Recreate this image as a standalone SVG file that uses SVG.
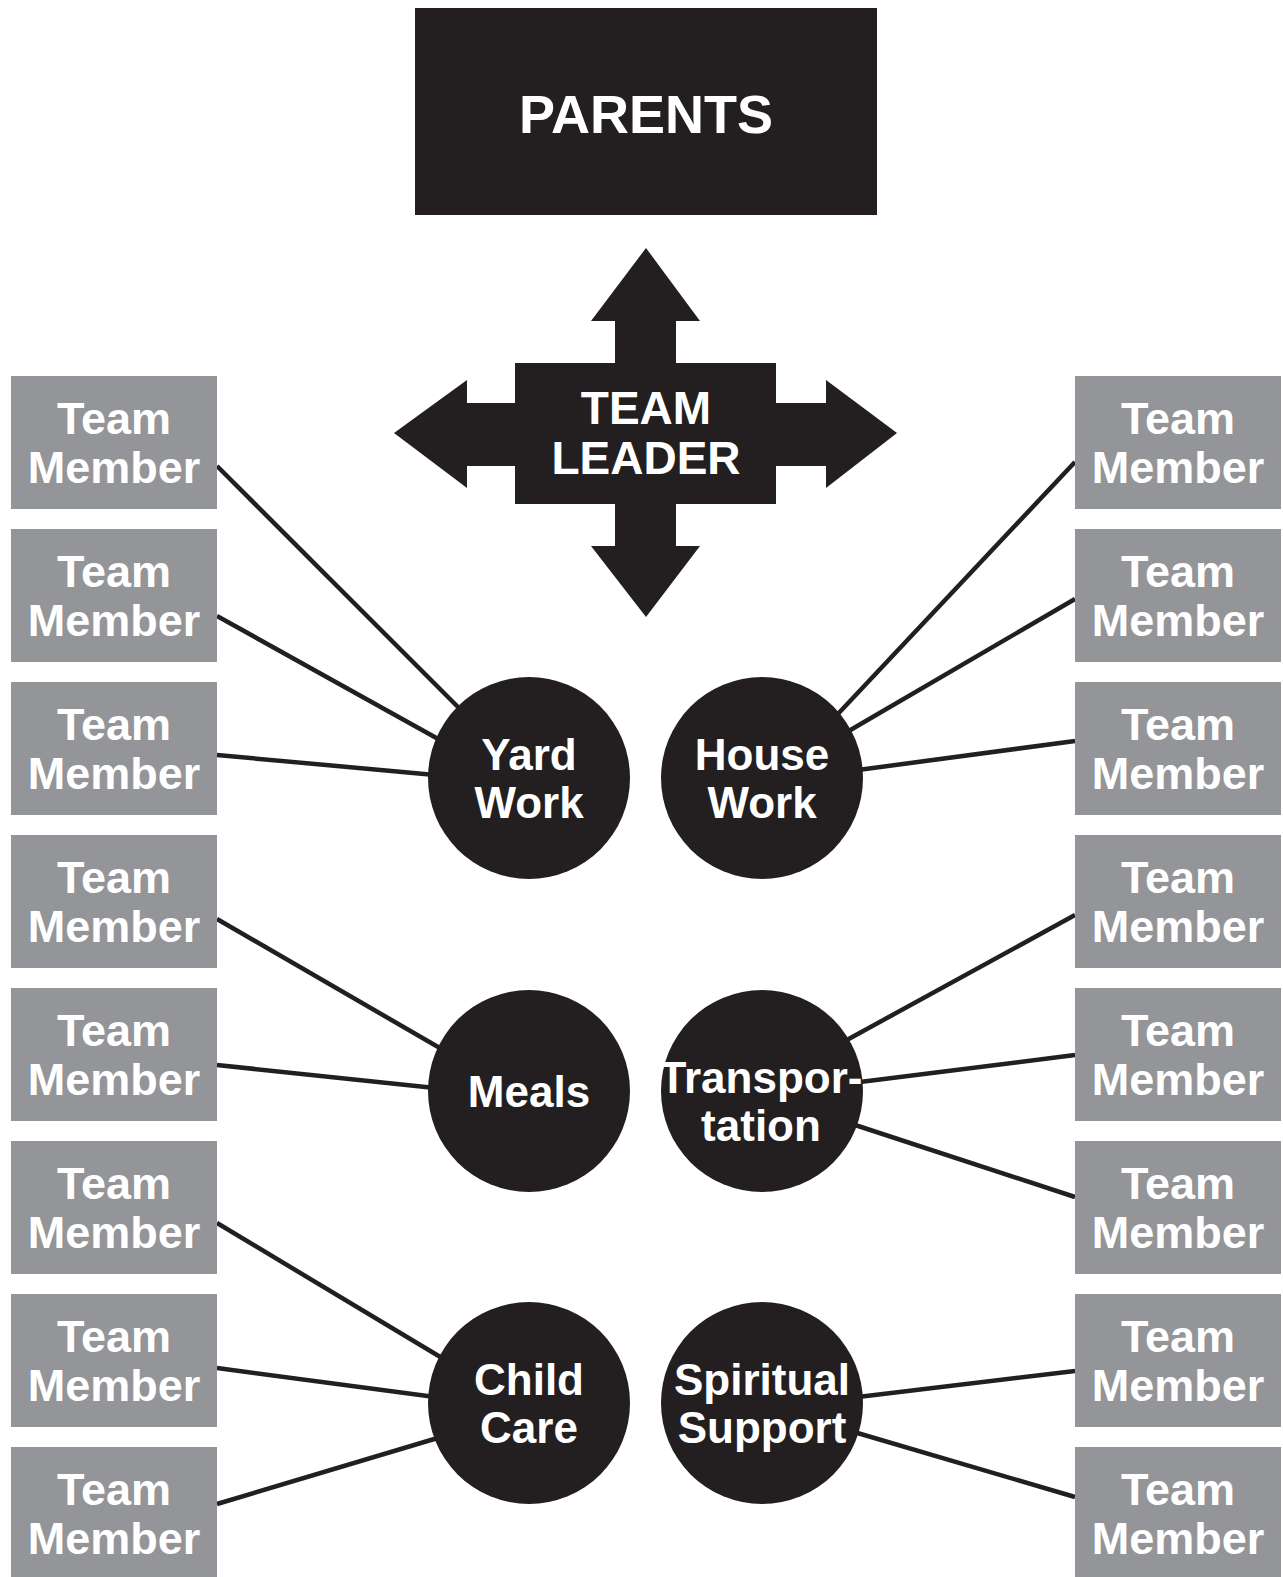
<svg xmlns="http://www.w3.org/2000/svg" width="1283" height="1577" viewBox="0 0 1283 1577">
<style>
.blk{fill:#231f20}
.mem{fill:#939598}
.t{font-family:"Liberation Sans",Arial,sans-serif;font-weight:bold;fill:#fff;text-anchor:middle}
.mt{font-size:45px}
.ct{font-size:44px}
.con line{stroke:#231f20;stroke-width:4.5}
</style>
<rect width="1283" height="1577" fill="#fff"/>
<g class="con">
<line x1="217" y1="466" x2="462" y2="711"/>
<line x1="217" y1="616" x2="440" y2="740"/>
<line x1="217" y1="755" x2="435" y2="775"/>
<line x1="217" y1="919" x2="445" y2="1051"/>
<line x1="217" y1="1065" x2="435" y2="1088"/>
<line x1="217" y1="1223" x2="447" y2="1361"/>
<line x1="217" y1="1368" x2="435" y2="1397"/>
<line x1="217" y1="1504" x2="441" y2="1437"/>
<line x1="836" y1="716" x2="1075" y2="462"/>
<line x1="847" y1="732" x2="1075" y2="599"/>
<line x1="858" y1="770" x2="1075" y2="741"/>
<line x1="845" y1="1041" x2="1075" y2="915"/>
<line x1="860" y1="1082" x2="1075" y2="1055"/>
<line x1="852" y1="1124" x2="1075" y2="1197"/>
<line x1="858" y1="1397" x2="1075" y2="1371"/>
<line x1="854" y1="1432" x2="1075" y2="1497"/>
</g>
<g id="parents">
<rect class="blk" x="415" y="8" width="462" height="207"/>
<text class="t" x="646" y="133" font-size="54">PARENTS</text>
</g>
<g id="team-leader">
<polygon class="blk" points="646,248 700,321 676,321 676,363 776,363 776,403 826,403 826,380 897,433 826,488 826,466 776,466 776,504 676,504 676,546 700,546 646,617 591,546 615,546 615,504 515,504 515,466 467,466 467,488 394,433 467,380 467,403 515,403 515,363 615,363 615,321 591,321"/>
<text class="t" x="646" y="424" font-size="46">TEAM</text>
<text class="t" x="646" y="474" font-size="46">LEADER</text>
</g>
<g id="yard-work"><circle class="blk" cx="529" cy="778" r="101"/><text class="t ct" x="529" y="770">Yard</text><text class="t ct" x="529" y="818">Work</text></g>
<g id="house-work"><circle class="blk" cx="762" cy="778" r="101"/><text class="t ct" x="762" y="770">House</text><text class="t ct" x="762" y="818">Work</text></g>
<g id="meals"><circle class="blk" cx="529" cy="1091" r="101"/><text class="t ct" x="529" y="1107" font-size="45">Meals</text></g>
<g id="transportation"><circle class="blk" cx="762" cy="1091" r="101"/><text class="t ct" x="761" y="1093">Transpor-</text><text class="t ct" x="761" y="1141">tation</text></g>
<g id="child-care"><circle class="blk" cx="529" cy="1403" r="101"/><text class="t ct" x="529" y="1395">Child</text><text class="t ct" x="529" y="1443">Care</text></g>
<g id="spiritual-support"><circle class="blk" cx="762" cy="1403" r="101"/><text class="t ct" x="762" y="1395">Spiritual</text><text class="t ct" x="762" y="1443">Support</text></g>
<g id="member-l1"><rect class="mem" x="11" y="376" width="206" height="133"/><text class="t mt" x="114" y="434">Team</text><text class="t mt" x="114" y="483">Member</text></g>
<g id="member-l2"><rect class="mem" x="11" y="529" width="206" height="133"/><text class="t mt" x="114" y="587">Team</text><text class="t mt" x="114" y="636">Member</text></g>
<g id="member-l3"><rect class="mem" x="11" y="682" width="206" height="133"/><text class="t mt" x="114" y="740">Team</text><text class="t mt" x="114" y="789">Member</text></g>
<g id="member-l4"><rect class="mem" x="11" y="835" width="206" height="133"/><text class="t mt" x="114" y="893">Team</text><text class="t mt" x="114" y="942">Member</text></g>
<g id="member-l5"><rect class="mem" x="11" y="988" width="206" height="133"/><text class="t mt" x="114" y="1046">Team</text><text class="t mt" x="114" y="1095">Member</text></g>
<g id="member-l6"><rect class="mem" x="11" y="1141" width="206" height="133"/><text class="t mt" x="114" y="1199">Team</text><text class="t mt" x="114" y="1248">Member</text></g>
<g id="member-l7"><rect class="mem" x="11" y="1294" width="206" height="133"/><text class="t mt" x="114" y="1352">Team</text><text class="t mt" x="114" y="1401">Member</text></g>
<g id="member-l8"><rect class="mem" x="11" y="1447" width="206" height="133"/><text class="t mt" x="114" y="1505">Team</text><text class="t mt" x="114" y="1554">Member</text></g>
<g id="member-r1"><rect class="mem" x="1075" y="376" width="206" height="133"/><text class="t mt" x="1178" y="434">Team</text><text class="t mt" x="1178" y="483">Member</text></g>
<g id="member-r2"><rect class="mem" x="1075" y="529" width="206" height="133"/><text class="t mt" x="1178" y="587">Team</text><text class="t mt" x="1178" y="636">Member</text></g>
<g id="member-r3"><rect class="mem" x="1075" y="682" width="206" height="133"/><text class="t mt" x="1178" y="740">Team</text><text class="t mt" x="1178" y="789">Member</text></g>
<g id="member-r4"><rect class="mem" x="1075" y="835" width="206" height="133"/><text class="t mt" x="1178" y="893">Team</text><text class="t mt" x="1178" y="942">Member</text></g>
<g id="member-r5"><rect class="mem" x="1075" y="988" width="206" height="133"/><text class="t mt" x="1178" y="1046">Team</text><text class="t mt" x="1178" y="1095">Member</text></g>
<g id="member-r6"><rect class="mem" x="1075" y="1141" width="206" height="133"/><text class="t mt" x="1178" y="1199">Team</text><text class="t mt" x="1178" y="1248">Member</text></g>
<g id="member-r7"><rect class="mem" x="1075" y="1294" width="206" height="133"/><text class="t mt" x="1178" y="1352">Team</text><text class="t mt" x="1178" y="1401">Member</text></g>
<g id="member-r8"><rect class="mem" x="1075" y="1447" width="206" height="133"/><text class="t mt" x="1178" y="1505">Team</text><text class="t mt" x="1178" y="1554">Member</text></g>
</svg>
